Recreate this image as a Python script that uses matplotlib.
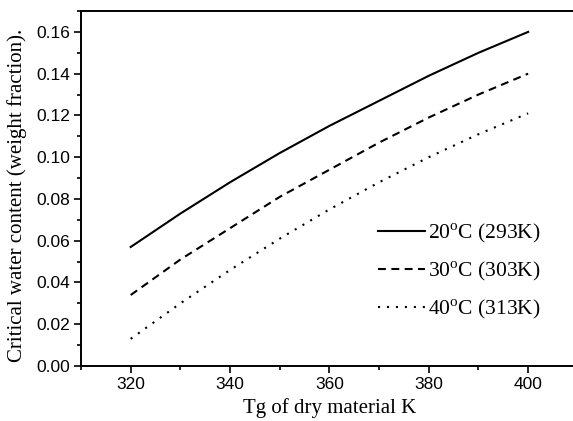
import matplotlib
matplotlib.use("Agg")
import matplotlib.pyplot as plt
from matplotlib.ticker import MultipleLocator, FormatStrFormatter

# Tg of dry material (K)
tg = [320, 330, 340, 350, 360, 370, 380, 390, 400]
# critical water content (weight fraction) at each storage temperature
w_20 = [0.057, 0.073, 0.088, 0.102, 0.115, 0.127, 0.139, 0.150, 0.160]
w_30 = [0.034, 0.051, 0.066, 0.081, 0.094, 0.107, 0.119, 0.130, 0.140]
w_40 = [0.013, 0.030, 0.046, 0.061, 0.075, 0.088, 0.100, 0.111, 0.121]
labels = ["20$^{\\rm o}$C (293K)", "30$^{\\rm o}$C (303K)", "40$^{\\rm o}$C (313K)"]

serif = "Liberation Serif"
sans = "Liberation Sans"
plt.rcParams["mathtext.fontset"] = "custom"
plt.rcParams["mathtext.rm"] = serif

fig = plt.figure(figsize=(5.73, 4.21), dpi=100)
ax = fig.add_axes([0.1414, 0.1306, 0.867, 0.8432])

ax.plot(tg, w_20, color="black", lw=1.5, linestyle="-", label=labels[0])
ax.plot(tg, w_30, color="black", lw=1.5, linestyle=(0, (3.8, 2.6)), label=labels[1])
ax.plot(tg, w_40, color="black", lw=1.5, linestyle=(0, (1, 3.3)), label=labels[2])

ax.set_xlim(310, 410)
ax.set_ylim(0, 0.17)
ax.xaxis.set_major_locator(MultipleLocator(20))
ax.xaxis.set_minor_locator(MultipleLocator(10))
ax.yaxis.set_major_locator(MultipleLocator(0.02))
ax.yaxis.set_minor_locator(MultipleLocator(0.01))
ax.yaxis.set_major_formatter(FormatStrFormatter("%.2f"))

ax.tick_params(which="both", direction="out", top=False, right=False, width=1.2)
ax.tick_params(which="major", length=5, labelsize=12.5, pad=3)
ax.tick_params(which="minor", length=3)
for lab in ax.get_xticklabels() + ax.get_yticklabels():
    lab.set_fontfamily(sans)
for sp in ax.spines.values():
    sp.set_linewidth(1.4)

ax.set_xlabel("Tg of dry material K", fontsize=15, fontfamily=serif)
ax.set_ylabel("Critical water content (weight fraction).", fontsize=15, fontfamily=serif)
ax.xaxis.set_label_coords(0.5, -0.118)
ax.xaxis.label.set_va("center")
ax.yaxis.set_label_coords(-0.129, 0.48)
ax.yaxis.label.set_va("center")

leg = ax.legend(loc="lower right", bbox_to_anchor=(0.925, 0.128), frameon=False,
                borderpad=0, borderaxespad=0,
                prop={"family": serif, "size": 15.5}, handlelength=2.2,
                handletextpad=0.12, labelspacing=0.66)

fig.savefig("out.png", dpi=100)
